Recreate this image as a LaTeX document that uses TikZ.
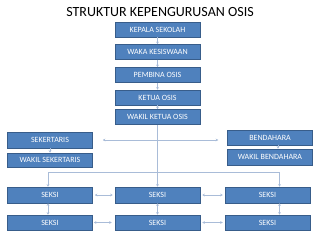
\documentclass[tikz,border=0pt]{standalone}
\usepackage{fontspec}
\setmainfont{Carlito}
\usetikzlibrary{arrows.meta}
\definecolor{boxblue}{HTML}{4F81BD}
\definecolor{boxedge}{HTML}{385D8A}
\definecolor{linkcol}{HTML}{A9BCD8}

\begin{document}
\begin{tikzpicture}[x=1pt,y=-1pt,
  jabatan/.style={fill=boxblue,draw=boxedge,line width=0.5pt,text=white,
    minimum width=85pt,minimum height=15pt,inner sep=0pt,font=\fontsize{8}{9}\selectfont},
  link/.style={draw=linkcol,line width=0.6pt,-{Stealth[length=2.5pt,width=2.5pt]}},
  dualink/.style={link,{Stealth[length=2.5pt,width=2.5pt]}-{Stealth[length=2.5pt,width=2.5pt]}}]
\useasboundingbox (0,0) rectangle (320,240);
\node[font=\fontsize{14}{16}\selectfont] (judul) at (160,12) {STRUKTUR KEPENGURUSAN OSIS};
% pengurus inti
\node[jabatan] (kepala) at (157.5,29.5) {KEPALA SEKOLAH};
\node[jabatan] (waka) at (157.5,52) {WAKA KESISWAAN};
\node[jabatan] (pembina) at (157.5,75) {PEMBINA OSIS};
\node[jabatan] (ketua) at (157.5,97.5) {KETUA OSIS};
\node[jabatan] (wketua) at (157.5,117) {WAKIL KETUA OSIS};
\node[jabatan,minimum height=16pt] (sek) at (50,140) {SEKERTARIS};
\node[jabatan,minimum height=14pt] (wsek) at (50,160) {WAKIL SEKERTARIS};
\node[jabatan] (bend) at (270,137.5) {BENDAHARA};
\node[jabatan,minimum height=16pt] (wbend) at (270,157) {WAKIL BENDAHARA};
% seksi
\node[jabatan,minimum height=16pt] (sa) at (50,195) {SEKSI};
\node[jabatan,minimum height=16pt] (sb) at (157.5,195) {SEKSI};
\node[jabatan,minimum height=16pt] (sc) at (267.5,195) {SEKSI};
\node[jabatan] (ta) at (50,222.5) {SEKSI};
\node[jabatan] (tb) at (157.5,222.5) {SEKSI};
\node[jabatan] (tc) at (267.5,222.5) {SEKSI};
\coordinate (bus) at (157.5,172);

\draw[link] (kepala) -- (waka);
\draw[link] (waka) -- (pembina);
\draw[link] (pembina) -- (ketua);
\draw[link] (ketua) -- (wketua);
\draw[link] (sek) -- (wsek);
\draw[link] ([xshift=8pt]bend.south) -- ([xshift=8pt]wbend.north);
\draw[dualink,shorten <=10pt,shorten >=9pt] (sek.east) -- (sek.east -| bend.west);
\draw[link] (wketua) -- (sb);
\draw[link] (bus) -| ([xshift=-2pt]sa.north);
\draw[link] (bus) -| ([xshift=12pt]sc.north);
\draw[dualink] ([xshift=-2pt]sa.south) -- ([xshift=-2pt]ta.north);
\draw[dualink] (sb) -- (tb);
\draw[dualink] ([xshift=12pt]sc.south) -- ([xshift=12pt]tc.north);
\draw[dualink,shorten <=2pt,shorten >=2pt] (sa) -- (sb);
\draw[dualink,shorten <=2pt,shorten >=2pt] (sb) -- (sc);
\draw[dualink,shorten <=1pt,shorten >=3pt] (ta) -- (tb);
\draw[dualink,shorten <=2pt,shorten >=2pt] (tb) -- (tc);
\end{tikzpicture}
\end{document}
